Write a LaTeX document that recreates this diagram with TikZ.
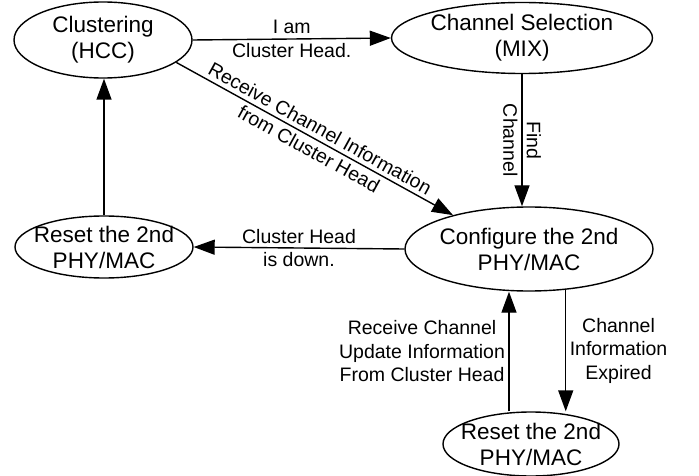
\documentclass[tikz,border=0pt]{standalone}
\usepackage{fontspec}
\setmainfont{Liberation Sans}
\usetikzlibrary{shapes.geometric,arrows.meta}

\tikzset{
  state/.style={ellipse, draw, line width=1.4pt, inner sep=0pt},
  stext/.style={align=center, font=\fontsize{22.5}{26}\selectfont},
  ltext/.style={align=center, font=\fontsize{19.5}{23.5}\selectfont},
  arr/.style={line width=1.4pt, -{Triangle[length=21pt,width=15pt]}}
}

\begin{document}
\begin{tikzpicture}[x=1pt,y=-1pt]
\useasboundingbox (0,0) rectangle (699,476);
% states
\node[state, minimum width=178, minimum height=76,
      label={[stext]center:Clustering\\(HCC)}] (clust) at (103,40) {};
\node[state, minimum width=261, minimum height=71,
      label={[stext]center:Channel Selection\\(MIX)}] (chsel) at (522,38) {};
\node[state, minimum width=178, minimum height=62,
      label={[stext]center:Reset the 2nd\\PHY/MAC}] (resetl) at (104,247) {};
\node[state, minimum width=248, minimum height=84,
      label={[stext]center:Configure the 2nd\\PHY/MAC}] (conf) at (529,249) {};
\node[state, minimum width=176, minimum height=64,
      label={[stext]center:Reset the 2nd\\PHY/MAC}] (resetb) at (531,444) {};
% transitions
\draw[arr] (clust.east) -- (chsel.west)
  node[ltext, midway] {I am\\Cluster Head.};
\draw[arr] (clust.-17) -- (conf.156)
  node[ltext, midway, sloped] {Receive Channel Information\\from Cluster Head};
\draw[arr] (chsel.south) -- (chsel.south |- conf.north)
  node[ltext, midway, sloped] {Find\\Channel};
\draw[arr] (conf.west) -- (resetl.east)
  node[ltext, midway] {Cluster Head\\is down.};
\draw[arr] (resetl.north) -- (resetl.north |- clust.south);
\draw[arr] (conf.-48) -- (conf.-48 |- resetb.north)
  node[ltext, midway, right] {Channel\\Information\\Expired};
\draw[arr] ([xshift=-22pt]resetb.north) -- ([xshift=-22pt]resetb.north |- conf.south)
  node[ltext, midway, left] {Receive Channel\\Update Information\\From Cluster Head};
\end{tikzpicture}
\end{document}
